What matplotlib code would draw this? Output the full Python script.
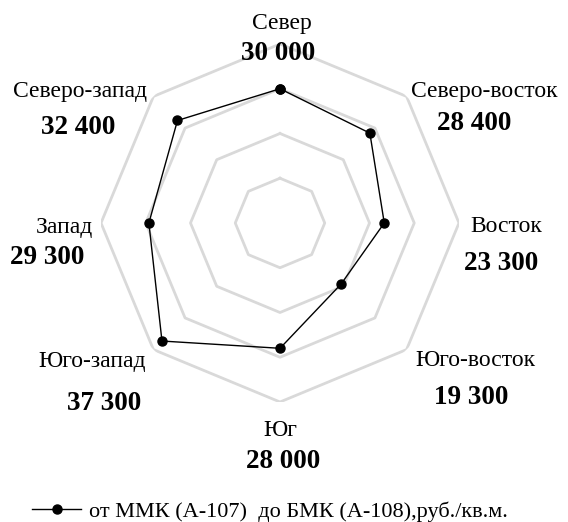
import numpy as np
import matplotlib.pyplot as plt

# Направления и цены, руб./кв.м.
directions = ['Север', 'Северо-восток', 'Восток', 'Юго-восток',
              'Юг', 'Юго-запад', 'Запад', 'Северо-запад']
prices = [30000, 28400, 23300, 19300, 28000, 37300, 29300, 32400]
rings = [10000, 20000, 30000, 40000]
series_name = 'от ММК (А-107)  до БМК (А-108),руб./кв.м.'

# центры подписей в пикселях: (имя), (значение)
name_pos = [(282, 23), (484, 92), (506, 226), (475, 360),
            (280, 430), (92, 361), (64, 227), (80, 92)]
value_pos = [(278, 54), (474, 124), (501, 263), (471, 397),
             (283, 462), (104, 403), (47, 258), (78, 127)]

W, H = 568, 522
plt.rcParams['font.family'] = ['Liberation Serif', 'DejaVu Serif']

fig = plt.figure(figsize=(W / 100, H / 100), dpi=100)
cx, cy, R = 280, 223, 179
ax = fig.add_axes([(cx - R) / W, (H - cy - R) / H, 2 * R / W, 2 * R / H],
                  projection='polar')
ax.set_theta_offset(np.pi / 2)
ax.set_theta_direction(-1)
ax.set_ylim(0, rings[-1])
ax.set_axis_off()

angles = np.linspace(0, 2 * np.pi, len(directions), endpoint=False)
closed = np.append(angles, angles[0])

# октагональная сетка
for r in rings:
    ax.plot(closed, [r] * len(closed), color='#d9d9d9', lw=2, zorder=1)

line, = ax.plot(closed, prices + prices[:1], color='black', lw=1,
                marker='o', markersize=6.5, zorder=3, clip_on=False)

for name, v, (nx, ny), (vx, vy) in zip(directions, prices, name_pos, value_pos):
    fig.text(nx / W, 1 - ny / H, name, ha='center', va='center', fontsize=17)
    fig.text(vx / W, 1 - vy / H, f'{v:,}'.replace(',', ' '), ha='center',
             va='center', fontsize=19.5, fontweight='bold')

fig.legend([line], [series_name], loc='center', bbox_to_anchor=(270 / W, 1 - 512 / H),
           frameon=False, fontsize=16, handlelength=2.2, handletextpad=0.35)

fig.savefig('out.png', dpi=100)
